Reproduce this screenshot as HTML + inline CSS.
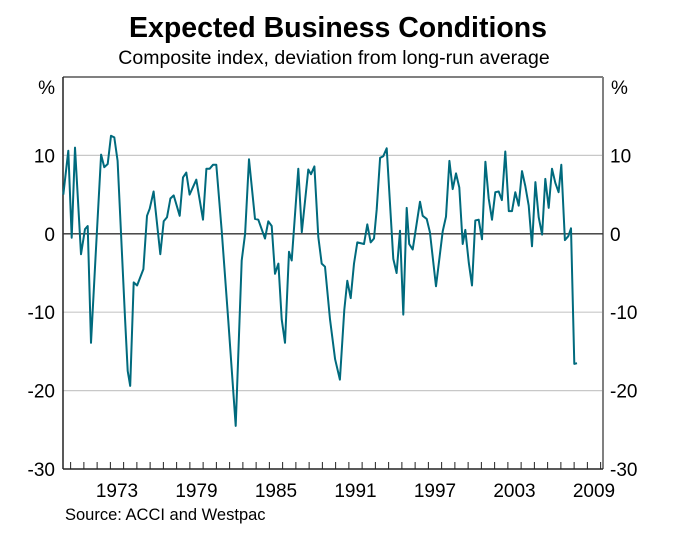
<!DOCTYPE html>
<html><head><meta charset="utf-8"><style>
body{margin:0;background:#fff;}
svg{display:block;font-family:"Liberation Sans",Arial,sans-serif;}
</style></head><body>
<svg id="chart" width="675" height="538" viewBox="0 0 675 538">
<text x="338" y="37" text-anchor="middle" font-size="28.5" font-weight="bold">Expected Business Conditions</text>
<text x="334" y="64" text-anchor="middle" font-size="19.5">Composite index, deviation from long-run average</text>
<text x="55" y="94" text-anchor="end" font-size="19">%</text>
<text x="611" y="94" font-size="19">%</text>
<g id="grid"></g>
<g id="axes"></g>
<g id="series"></g>
<text x="65" y="520" font-size="16.5">Source: ACCI and Westpac</text>
</svg>
<script>
const years=[1969.02,1969.41,1969.68,1969.93,1970.40,1970.71,1970.92,1971.18,1971.54,1971.96,1972.21,1972.48,1972.73,1972.99,1973.25,1973.82,1974.03,1974.23,1974.50,1974.76,1975.25,1975.53,1975.74,1976.05,1976.57,1976.83,1977.09,1977.35,1977.61,1978.08,1978.33,1978.59,1978.85,1979.37,1979.89,1980.15,1980.41,1980.67,1980.92,1981.34,1981.86,1982.43,1982.90,1983.16,1983.47,1983.93,1984.19,1984.71,1984.97,1985.23,1985.49,1985.75,1986.01,1986.27,1986.58,1986.79,1987.30,1987.57,1988.08,1988.29,1988.55,1988.86,1989.12,1989.38,1989.77,1990.16,1990.54,1990.88,1991.11,1991.38,1991.63,1991.89,1992.41,1992.67,1992.93,1993.19,1993.40,1993.66,1993.91,1994.18,1994.69,1994.95,1995.21,1995.47,1995.73,1995.93,1996.20,1996.77,1996.98,1997.29,1997.54,1998.01,1998.53,1998.79,1999.05,1999.31,1999.57,1999.82,2000.09,2000.29,2000.56,2000.81,2001.07,2001.33,2001.59,2001.85,2002.11,2002.37,2002.62,2002.89,2003.14,2003.40,2003.67,2003.92,2004.18,2004.44,2004.70,2004.96,2005.22,2005.48,2005.74,2006.00,2006.26,2006.51,2006.78,2007.03,2007.29,2007.55,2007.76,2008.04,2008.30,2008.51,2008.77,2008.98];
const values=[5.0,10.6,-0.5,11.0,-2.6,0.6,1.0,-13.9,-2.6,10.1,8.5,8.9,12.5,12.3,9.3,-10.7,-17.5,-19.4,-6.2,-6.6,-4.5,2.3,3.2,5.4,-2.6,1.6,2.1,4.5,4.9,2.3,7.2,7.8,5.0,6.9,1.8,8.3,8.3,8.8,8.8,0.4,-11.1,-24.5,-3.4,0.0,9.5,1.9,1.8,-0.6,1.6,1.0,-5.1,-3.8,-10.9,-13.9,-2.3,-3.4,8.3,0.2,8.2,7.6,8.6,-0.4,-3.8,-4.2,-10.9,-16.0,-18.6,-9.7,-6.0,-8.2,-3.8,-1.1,-1.3,1.2,-1.1,-0.6,3.1,9.7,9.9,10.9,-3.2,-5.0,0.4,-10.3,3.3,-1.3,-2.0,4.1,2.3,1.9,0.2,-6.7,0.3,2.2,9.3,5.7,7.7,5.9,-1.3,0.5,-3.7,-6.6,1.7,1.8,-0.7,9.2,4.5,1.8,5.3,5.4,4.3,10.5,2.9,2.9,5.3,3.6,8.0,6.1,3.6,-1.6,6.6,2.1,-0.1,7.0,3.3,8.3,6.5,5.3,8.8,-0.8,-0.3,0.7,-16.6,-16.5];
const yTicks=[-30,-20,-10,0,10];
const xLabels=[1973,1979,1985,1991,1997,2003,2009];
const NS="http://www.w3.org/2000/svg";
const L=63,R=603,T=77,B=469,X0=1969,X1=2011,Y0=-30,Y1=20;
function sx(v){return L+(v-X0)/(X1-X0)*(R-L);}
function sy(v){return B-(v-Y0)/(Y1-Y0)*(B-T);}
function lx(v){return 117+(v-1973)*13.25;}
function mk(tag,attrs,parent){const e=document.createElementNS(NS,tag);for(const k in attrs)e.setAttribute(k,attrs[k]);parent.appendChild(e);return e;}
const grid=document.getElementById('grid'),axes=document.getElementById('axes'),series=document.getElementById('series');
yTicks.forEach(t=>{
  if(t!==Y0&&t!==0){const g=mk('line',{x1:L,x2:R,y1:sy(t),y2:sy(t),stroke:'#c8c8c8','stroke-width':1.2},grid);
  
  }
  const a=mk('text',{x:55,y:sy(t)+7,'text-anchor':'end','font-size':19},axes);a.textContent=t;
  
  
  const b=mk('text',{x:610,y:sy(t)+7,'text-anchor':'start','font-size':19},axes);b.textContent=t;
  
  
});
const topBorder=mk('line',{x1:L,x2:R,y1:T,y2:T,stroke:'#808080','stroke-width':2},axes);


const la=mk('line',{x1:L,x2:L,y1:T,y2:B,stroke:'#222','stroke-width':1.5},axes);


const ra=mk('line',{x1:R,x2:R,y1:T,y2:B,stroke:'#808080','stroke-width':2},axes);


const ba=mk('line',{x1:L,x2:R,y1:B,y2:B,stroke:'#222','stroke-width':1.5},axes);


const zl=mk('line',{x1:L,x2:R,y1:sy(0),y2:sy(0),stroke:'#333','stroke-width':1.3},axes);


for(let y=2009.5;lx(y)>68;y--){const t=mk('line',{x1:lx(y),x2:lx(y),y1:B,y2:B-7,stroke:'#222','stroke-width':1},axes);
  
  }
xLabels.forEach(y=>{const t=mk('text',{x:lx(y),y:B+28,'text-anchor':'middle','font-size':19},axes);t.textContent=y;
  
  });
const d=years.map((y,i)=>(i?'L':'M')+sx(y).toFixed(1)+','+sy(values[i]).toFixed(1)).join(' ');
const p=mk('path',{d:d,fill:'none',stroke:'#006a7d','stroke-width':2,'stroke-linejoin':'round'},series);


</script>
</body></html>
